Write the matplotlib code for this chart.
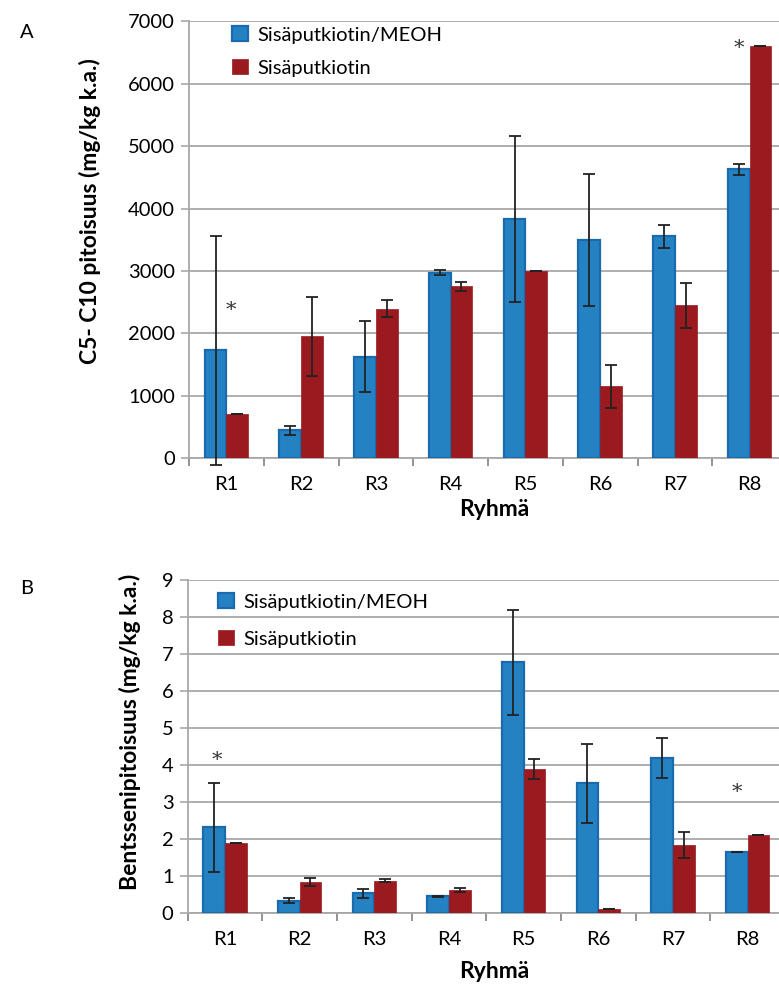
import matplotlib
matplotlib.use("Agg")
import matplotlib.pyplot as plt
import numpy as np

plt.rcParams['font.family'] = ['Lato', 'DejaVu Sans']

groups = ["R1", "R2", "R3", "R4", "R5", "R6", "R7", "R8"]
series_names = ["Sisäputkiotin/MEOH", "Sisäputkiotin"]

# Panel A: C5-C10
a_meoh = [1730, 450, 1625, 2975, 3830, 3500, 3555, 4630]
a_meoh_err = [1830, 70, 570, 42, 1330, 1055, 180, 88]
a_plain = [716, 1955, 2398, 2756, 2997, 1154, 2452, 6603]
a_plain_err = [0, 635, 140, 70, 0, 348, 358, 0]

# Panel B: benzene
b_meoh = [2.31, 0.32, 0.52, 0.44, 6.77, 3.50, 4.18, 1.65]
b_meoh_err = [1.20, 0.07, 0.12, 0.01, 1.42, 1.06, 0.54, 0.0]
b_plain = [1.88, 0.83, 0.86, 0.61, 3.89, 0.09, 1.82, 2.09]
b_plain_err = [0.0, 0.10, 0.04, 0.05, 0.28, 0.0, 0.35, 0.0]

# star annotations (group index, offset, value)
a_stars = [(0, 0.06, 2372), (7, -0.15, 6570)]
b_stars = [(0, -0.1, 4.13), (7, -0.15, 3.26)]

BLUE = "#2582C2"
BLUE_EDGE = "#1A6BAE"
RED = "#9A1A1F"
GRID = "#A8A8A8"
FS = 14.5
FSB = 16.5

W, H = 779, 985
fig = plt.figure(figsize=(W / 100, H / 100), dpi=100)

def panel(rect, meoh, meoh_err, plain, plain_err, ylim, yticks, ylabel, stars,
          leg_anchor, leg_spacing, letter, letter_y, ylab_xy, xlab_xy):
    ax = fig.add_axes(rect)
    x = np.arange(len(groups))
    bw = 0.29
    ax.bar(x - bw / 2, meoh, bw, color=BLUE, edgecolor=BLUE_EDGE, linewidth=1.6,
           label=series_names[0], zorder=3)
    ax.bar(x + bw / 2, plain, bw, color=RED, edgecolor=RED, linewidth=0.5,
           label=series_names[1], zorder=3)
    ax.errorbar(x - bw / 2, meoh, yerr=meoh_err, fmt='none', ecolor='#222222',
                elinewidth=1.3, capsize=4, capthick=1.3, zorder=4, clip_on=False)
    ax.errorbar(x + bw / 2, plain, yerr=plain_err, fmt='none', ecolor='#222222',
                elinewidth=1.3, capsize=4, capthick=1.3, zorder=4, clip_on=False)
    ax.set_xlim(-0.5, len(groups) - 0.5)
    ax.set_ylim(*ylim)
    ax.set_yticks(yticks)
    ax.set_yticklabels([str(t) for t in yticks])
    ax.yaxis.grid(True, color=GRID, linewidth=1.3, zorder=0)
    ax.set_axisbelow(True)
    for s in ['top', 'right']:
        ax.spines[s].set_visible(False)
    for s in ['left', 'bottom']:
        ax.spines[s].set_color(GRID)
        ax.spines[s].set_linewidth(1.3)
    ax.set_xticks(x)
    ax.set_xticklabels(groups, fontsize=FS)
    ax.tick_params(axis='x', length=0, pad=13)
    ax.set_xticks(np.arange(-0.5, len(groups) + 0.5, 1), minor=True)
    ax.tick_params(axis='x', which='minor', length=6, color='#808080', width=1.2)
    ax.tick_params(axis='y', length=6, color=GRID, width=1.2, labelsize=FS, pad=4)
    fig.text(xlab_xy[0] / W, 1 - xlab_xy[1] / H, "Ryhmä", fontsize=FSB,
             fontweight='bold', ha='center', va='center')
    fig.text(ylab_xy[0] / W, 1 - ylab_xy[1] / H, ylabel, fontsize=FSB,
             fontweight='bold', ha='center', va='center', rotation=90)
    for gi, off, val in stars:
        ax.text(gi + off, val, "*", ha='center', va='center', fontsize=15,
                family='DejaVu Serif', color='#333333')
    ax.legend(loc='upper left', bbox_to_anchor=leg_anchor,
              bbox_transform=fig.transFigure, frameon=False, fontsize=FS,
              handlelength=0.8, handleheight=0.8, handletextpad=0.45,
              labelspacing=leg_spacing, borderpad=0, borderaxespad=0)
    fig.text(20 / W, 1 - letter_y / H, letter, fontsize=FS, ha='left', va='center')
    return ax

panel([189 / W, (H - 458.3) / H, 598 / W, 437 / H],
      a_meoh, a_meoh_err, a_plain, a_plain_err, (0, 7000),
      list(range(0, 7001, 1000)), "C5- C10 pitoisuus (mg/kg k.a.)", a_stars,
      (232 / W, 1 - 26 / H), 0.75, "A", 32, (90, 211), (494, 510))

panel([187.5 / W, (H - 912.7) / H, 597.5 / W, 332.7 / H],
      b_meoh, b_meoh_err, b_plain, b_plain_err, (0, 9),
      list(range(0, 10)), "Bentssenipitoisuus (mg/kg k.a.)", b_stars,
      (218 / W, 1 - 593 / H), 0.95, "B", 588, (130, 732), (494, 971))

fig.savefig("out.png", dpi=100)
